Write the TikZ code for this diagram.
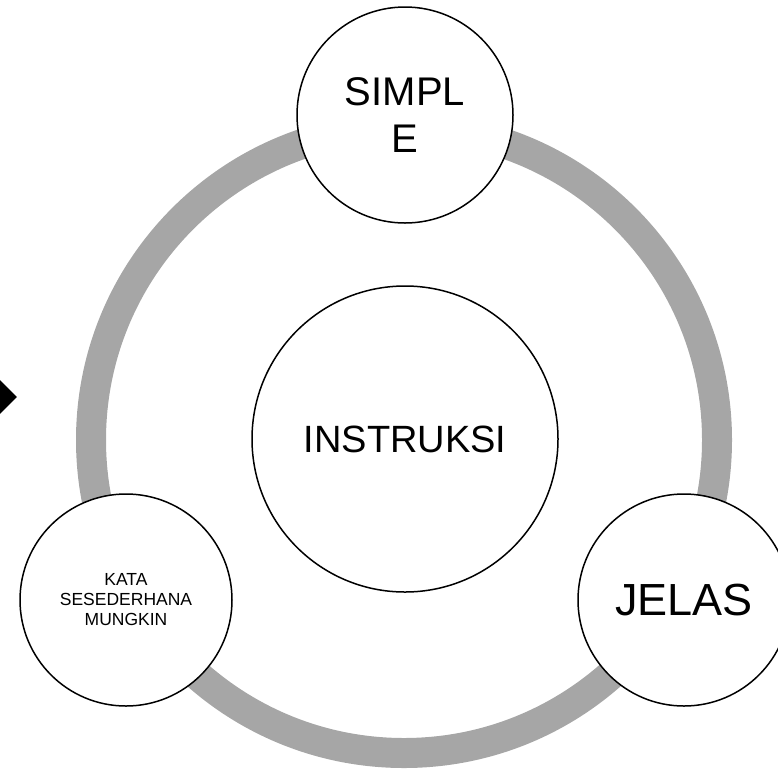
\documentclass[tikz,border=0pt]{standalone}
\usepackage{fontspec}
\setmainfont{Liberation Sans}
\usetikzlibrary{shapes.geometric}
\definecolor{ringgray}{RGB}{166,166,166}
\tikzset{
  ring/.style={draw=ringgray, line width=30pt},
  bubble/.style={circle, draw=black, line width=1.5pt, fill=white, inner sep=0pt, align=center},
  marker/.style={diamond, fill=black, inner sep=0pt, minimum width=44pt, minimum height=44pt}
}
\begin{document}
\begin{tikzpicture}[x=1pt, y=-1pt]
  \useasboundingbox (0,0) rectangle (778,769);
  % grey cycle ring
  \coordinate (hub) at (404,440);
  \draw[ring] (hub) circle[radius=313pt];
  % centre and satellite circles
  \node[bubble, minimum size=306pt, font=\fontsize{38}{45}\selectfont] (instr) at (405,439) {INSTRUKSI};
  \node[bubble, minimum size=216pt, font=\fontsize{40}{47}\selectfont] (simple) at (405,115) {SIMPL\\E};
  \node[bubble, minimum size=212pt, font=\fontsize{17.5}{20}\selectfont] (kata) at (126,600) {KATA\\SESEDERHANA\\MUNGKIN};
  \node[bubble, minimum size=212pt, font=\fontsize{45}{52}\selectfont] (jelas) at (684,600) {JELAS};
  % black marker at the left edge
  \node[marker] (mark) at (-5,397) {};
\end{tikzpicture}
\end{document}
